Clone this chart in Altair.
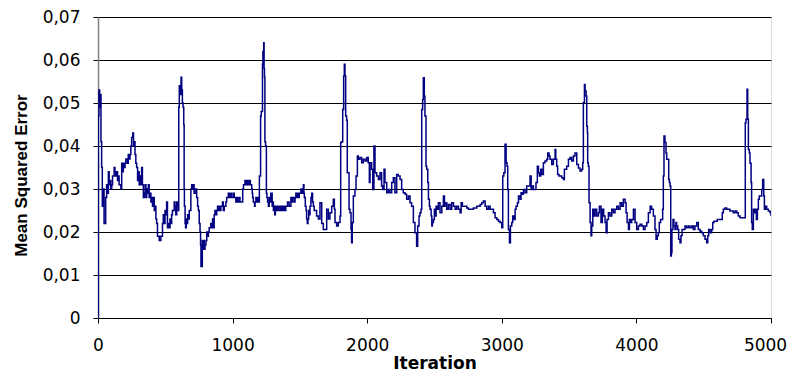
import altair as alt
import pandas as pd

# (iteration, mean squared error), segment by segment
seg1 = [(0, 0.0), (3, 0.047), (7, 0.053), (12, 0.049), (17, 0.052), (22, 0.041), (27, 0.035), (32, 0.026),
        (38, 0.030), (45, 0.022), (52, 0.022), (57, 0.028), (64, 0.031), (70, 0.029), (77, 0.034), (83, 0.031),
        (89, 0.032), (95, 0.030), (102, 0.031), (108, 0.033), (114, 0.033), (120, 0.035), (126, 0.034),
        (132, 0.033), (139, 0.034), (145, 0.032), (151, 0.033), (157, 0.031), (163, 0.031), (170, 0.030),
        (176, 0.036), (182, 0.034), (188, 0.036), (195, 0.035), (201, 0.036), (207, 0.037), (213, 0.037),
        (219, 0.036), (225, 0.038), (232, 0.037), (238, 0.038), (244, 0.040), (250, 0.042), (258, 0.043),
        (264, 0.040), (270, 0.041), (275, 0.038), (281, 0.036), (287, 0.035), (294, 0.032), (300, 0.034),
        (306, 0.031), (312, 0.033), (318, 0.031), (324, 0.035), (330, 0.031), (337, 0.028), (344, 0.029),
        (350, 0.031), (356, 0.028), (362, 0.030), (368, 0.029), (374, 0.031), (380, 0.028), (386, 0.029),
        (393, 0.027), (399, 0.028), (405, 0.026), (411, 0.028), (418, 0.025), (424, 0.026), (430, 0.023),
        (436, 0.022), (442, 0.019), (448, 0.019), (455, 0.018), (461, 0.018), (467, 0.019), (473, 0.019),
        (479, 0.022), (485, 0.024), (491, 0.022), (498, 0.025), (504, 0.024), (510, 0.027), (516, 0.021),
        (523, 0.022), (529, 0.021), (535, 0.023), (541, 0.022), (547, 0.024), (553, 0.025), (560, 0.025),
        (566, 0.027), (572, 0.026), (578, 0.024), (585, 0.027), (591, 0.026), (597, 0.025), (600, 0.049),
        (604, 0.054), (610, 0.052), (617, 0.056), (622, 0.053), (627, 0.050), (632, 0.049), (637, 0.045),
        (640, 0.030), (642, 0.026), (647, 0.022), (651, 0.021), (656, 0.023), (661, 0.022), (666, 0.024),
        (671, 0.023), (678, 0.025), (684, 0.025), (690, 0.030), (696, 0.031), (702, 0.030), (708, 0.031),
        (714, 0.029), (721, 0.030), (727, 0.030), (733, 0.028), (740, 0.026), (746, 0.025), (752, 0.022),
        (758, 0.020), (762, 0.017), (765, 0.012), (770, 0.012), (775, 0.018), (779, 0.016), (783, 0.018),
        (789, 0.016), (795, 0.017), (802, 0.018), (808, 0.020), (814, 0.019), (820, 0.020), (826, 0.021),
        (832, 0.021)]

seg2 = [(838, 0.022), (845, 0.021), (851, 0.023), (857, 0.021), (863, 0.024), (869, 0.025), (876, 0.024),
        (882, 0.025), (888, 0.026), (894, 0.025), (900, 0.026), (906, 0.025), (913, 0.026), (919, 0.026),
        (925, 0.027), (931, 0.025), (938, 0.026), (944, 0.026), (950, 0.027), (956, 0.028), (962, 0.028),
        (968, 0.029), (975, 0.028), (981, 0.028), (987, 0.029), (993, 0.028), (1000, 0.028), (1006, 0.029),
        (1012, 0.028), (1018, 0.028), (1024, 0.027), (1030, 0.028), (1037, 0.027), (1043, 0.027),
        (1049, 0.028), (1055, 0.027), (1061, 0.027), (1067, 0.027), (1075, 0.030), (1081, 0.031),
        (1087, 0.031), (1092, 0.032), (1097, 0.032), (1102, 0.031), (1107, 0.032), (1112, 0.031),
        (1117, 0.032), (1122, 0.031), (1127, 0.032), (1132, 0.031), (1137, 0.031), (1142, 0.030),
        (1146, 0.029), (1149, 0.028), (1154, 0.027), (1159, 0.027), (1163, 0.026), (1167, 0.027),
        (1173, 0.028), (1179, 0.027), (1185, 0.028), (1191, 0.027), (1199, 0.033), (1204, 0.033),
        (1208, 0.047), (1213, 0.048), (1218, 0.048), (1222, 0.059), (1225, 0.062), (1228, 0.060),
        (1231, 0.064), (1234, 0.058), (1237, 0.056), (1240, 0.041), (1245, 0.040), (1249, 0.040),
        (1251, 0.029), (1255, 0.028), (1260, 0.027), (1266, 0.026), (1272, 0.028), (1278, 0.027),
        (1284, 0.029), (1290, 0.029), (1294, 0.026), (1298, 0.027), (1303, 0.025), (1308, 0.026),
        (1313, 0.024), (1318, 0.026), (1323, 0.025), (1328, 0.026), (1334, 0.025), (1340, 0.026),
        (1346, 0.025), (1352, 0.025), (1358, 0.026), (1365, 0.025), (1371, 0.026), (1377, 0.025),
        (1383, 0.026), (1389, 0.025), (1395, 0.026), (1402, 0.026), (1408, 0.027), (1414, 0.027),
        (1420, 0.026), (1427, 0.026), (1433, 0.028), (1439, 0.027), (1445, 0.028), (1451, 0.028),
        (1457, 0.027), (1464, 0.028), (1470, 0.029), (1476, 0.028), (1482, 0.029), (1489, 0.028),
        (1495, 0.029), (1501, 0.029), (1507, 0.030), (1513, 0.029), (1520, 0.030), (1526, 0.031),
        (1530, 0.029), (1533, 0.028), (1540, 0.026), (1546, 0.025), (1550, 0.023), (1555, 0.022),
        (1560, 0.023), (1565, 0.025), (1570, 0.024), (1575, 0.026), (1582, 0.028), (1588, 0.029),
        (1594, 0.027), (1600, 0.026), (1606, 0.025), (1612, 0.025)]

seg3 = [(1624, 0.0237), (1637, 0.023), (1649, 0.0268), (1662, 0.022), (1674, 0.0206), (1686, 0.0206),
        (1699, 0.0253), (1711, 0.023), (1723, 0.0245), (1736, 0.026), (1748, 0.0276), (1756, 0.0253),
        (1761, 0.0222), (1773, 0.0214), (1785, 0.0222), (1798, 0.0237), (1803, 0.0408), (1810, 0.041),
        (1818, 0.0485), (1825, 0.0563), (1830, 0.059), (1835, 0.0563), (1840, 0.047), (1847, 0.046),
        (1852, 0.0338), (1860, 0.0338), (1865, 0.0253), (1872, 0.0245), (1880, 0.0206), (1884, 0.0175),
        (1889, 0.0222), (1897, 0.0284), (1909, 0.0299), (1917, 0.033), (1927, 0.0377), (1934, 0.0369),
        (1946, 0.0373), (1959, 0.0361), (1971, 0.0369), (1984, 0.0365), (1996, 0.0373), (2008, 0.0361),
        (2016, 0.0315), (2021, 0.0361), (2033, 0.0346), (2041, 0.0299), (2050, 0.0400), (2058, 0.0338),
        (2070, 0.033), (2083, 0.0322), (2095, 0.0338), (2107, 0.0307), (2115, 0.0299), (2125, 0.0346),
        (2132, 0.0315), (2145, 0.0291), (2157, 0.0299), (2169, 0.0291), (2182, 0.0315), (2194, 0.0326),
        (2206, 0.0291), (2219, 0.0334), (2231, 0.033), (2244, 0.0322), (2256, 0.0299), (2268, 0.0291),
        (2281, 0.0288), (2293, 0.0276), (2306, 0.0284), (2318, 0.0268), (2330, 0.026), (2343, 0.0222),
        (2355, 0.0198), (2367, 0.0167), (2375, 0.0214), (2385, 0.0237), (2392, 0.0245), (2400, 0.0253),
        (2405, 0.0485), (2412, 0.0508), (2417, 0.0559), (2424, 0.0516), (2429, 0.047)]

seg4 = [(2437, 0.0353), (2442, 0.0346), (2450, 0.0315), (2455, 0.0276), (2462, 0.026), (2467, 0.0253),
        (2475, 0.0237), (2480, 0.0214), (2484, 0.0222), (2492, 0.0229), (2499, 0.0253), (2504, 0.0237),
        (2512, 0.026), (2519, 0.0253), (2529, 0.0268), (2541, 0.0245), (2554, 0.026), (2566, 0.0284),
        (2574, 0.026), (2579, 0.0268), (2591, 0.0253), (2603, 0.0264), (2616, 0.0253), (2628, 0.0268),
        (2641, 0.026), (2653, 0.0253), (2665, 0.026), (2678, 0.0253), (2690, 0.0245), (2698, 0.0268),
        (2707, 0.026), (2722, 0.026), (2740, 0.0256), (2752, 0.0253), (2764, 0.0253), (2777, 0.0253),
        (2789, 0.0256), (2802, 0.0256), (2814, 0.026), (2826, 0.026), (2839, 0.0264), (2851, 0.0268),
        (2863, 0.0272), (2876, 0.026), (2888, 0.0253), (2901, 0.026), (2913, 0.0253), (2925, 0.0253),
        (2938, 0.0245), (2950, 0.0233), (2963, 0.0229), (2975, 0.0225), (2987, 0.0222), (3000, 0.021),
        (3007, 0.033), (3015, 0.0338), (3024, 0.0404), (3032, 0.0361), (3039, 0.0353), (3044, 0.0299),
        (3049, 0.0206), (3057, 0.0175), (3064, 0.0214), (3074, 0.0222), (3081, 0.0237), (3089, 0.0229),
        (3099, 0.0253), (3106, 0.026), (3116, 0.0268), (3124, 0.0284), (3136, 0.0276), (3143, 0.0291),
        (3153, 0.0288), (3161, 0.0299), (3173, 0.0291), (3185, 0.0307), (3198, 0.0307), (3210, 0.033),
        (3218, 0.0299), (3223, 0.0307), (3235, 0.0299), (3247, 0.0299)]

seg5 = [(3254, 0.0315), (3264, 0.0353), (3272, 0.0338), (3279, 0.033), (3289, 0.0346), (3297, 0.0334),
        (3309, 0.0361), (3321, 0.0365), (3334, 0.0369), (3341, 0.0384), (3351, 0.0377), (3358, 0.0369),
        (3371, 0.0357), (3383, 0.0369), (3396, 0.0392), (3401, 0.0369), (3408, 0.0353), (3415, 0.0334),
        (3425, 0.033), (3433, 0.033), (3445, 0.0326), (3458, 0.0322), (3465, 0.0346), (3475, 0.0346),
        (3482, 0.0353), (3495, 0.0369), (3507, 0.0373), (3519, 0.0365), (3532, 0.0377), (3544, 0.0384),
        (3557, 0.0357), (3569, 0.0349), (3581, 0.0342), (3594, 0.0346), (3601, 0.0361), (3606, 0.0501),
        (3614, 0.0543), (3619, 0.0528), (3626, 0.0516), (3631, 0.0446), (3636, 0.0431), (3638, 0.0361),
        (3643, 0.0353), (3648, 0.0268), (3656, 0.0222), (3663, 0.0191), (3668, 0.0214), (3676, 0.0253),
        (3683, 0.0237), (3693, 0.0253), (3705, 0.0237), (3718, 0.0245), (3725, 0.026), (3737, 0.0222),
        (3747, 0.0253), (3757, 0.0237), (3767, 0.0222), (3775, 0.0198), (3782, 0.0229), (3792, 0.0245),
        (3804, 0.0237), (3817, 0.0253), (3829, 0.0245), (3841, 0.0253), (3854, 0.026), (3866, 0.0253),
        (3879, 0.0268), (3891, 0.026), (3903, 0.0276), (3916, 0.0268), (3923, 0.0245), (3931, 0.0222),
        (3941, 0.0206), (3948, 0.0229), (3958, 0.0222), (3965, 0.0229), (3978, 0.0253), (3990, 0.0222),
        (4002, 0.0206), (4015, 0.0214), (4027, 0.0218), (4040, 0.0214), (4052, 0.0206), (4064, 0.0214),
        (4077, 0.0222), (4089, 0.0245), (4102, 0.026)]

seg6 = [(4113, 0.0253), (4126, 0.0237), (4138, 0.0206), (4146, 0.0183), (4155, 0.0191), (4163, 0.0198),
        (4170, 0.0222), (4180, 0.0229), (4188, 0.0229), (4195, 0.0253), (4200, 0.033), (4205, 0.0423),
        (4212, 0.0408), (4220, 0.0384), (4225, 0.0369), (4232, 0.0369), (4240, 0.0322), (4245, 0.0315),
        (4250, 0.0307), (4255, 0.0144), (4260, 0.0152), (4264, 0.0206), (4272, 0.0229), (4279, 0.0214),
        (4287, 0.0206), (4294, 0.0222), (4299, 0.0214), (4307, 0.0206), (4314, 0.0183), (4324, 0.0175),
        (4331, 0.0191), (4339, 0.0206), (4349, 0.0206), (4361, 0.0214), (4373, 0.021), (4386, 0.0214),
        (4398, 0.021), (4411, 0.0214), (4423, 0.0206), (4435, 0.0214), (4448, 0.0222), (4460, 0.0206),
        (4473, 0.0202), (4485, 0.0198), (4497, 0.0191), (4510, 0.0183), (4522, 0.0175), (4530, 0.0191),
        (4537, 0.0206), (4547, 0.0198), (4559, 0.0206), (4567, 0.0222), (4577, 0.0225), (4589, 0.0225),
        (4601, 0.0229), (4614, 0.0229), (4626, 0.0229), (4638, 0.0245), (4646, 0.0253), (4658, 0.0256),
        (4671, 0.0253), (4683, 0.0253), (4695, 0.0249), (4708, 0.0249), (4720, 0.0245), (4733, 0.0249),
        (4745, 0.0245), (4757, 0.0237), (4770, 0.0233), (4782, 0.0233), (4795, 0.0233), (4807, 0.0233),
        (4809, 0.0454), (4814, 0.0462), (4822, 0.0532), (4827, 0.0462), (4832, 0.0392), (4839, 0.0384),
        (4844, 0.036), (4852, 0.0315), (4856, 0.0222), (4861, 0.0206), (4869, 0.0253), (4876, 0.0245),
        (4884, 0.0253), (4891, 0.0229), (4899, 0.0253), (4906, 0.0276), (4913, 0.0284), (4923, 0.0284),
        (4931, 0.0299), (4938, 0.0322), (4946, 0.0284), (4951, 0.0253), (4958, 0.026), (4968, 0.0253),
        (4980, 0.0249), (4993, 0.0245), (5000, 0.0237)]

x_ticks = [0, 1000, 2000, 3000, 4000, 5000]
y_ticks = [0, 0.01, 0.02, 0.03, 0.04, 0.05, 0.06, 0.07]

rows = seg1 + seg2 + seg3 + seg4 + seg5 + seg6
df = pd.DataFrame(rows, columns=["Iteration", "MSE"])

label_font = "DejaVu Sans"

chart = (
    alt.Chart(df)
    .mark_line(color="#000080", strokeWidth=1.5, interpolate="step-after", clip=True)
    .encode(
        x=alt.X(
            "Iteration:Q",
            scale=alt.Scale(domain=[0, 5000], nice=False, zero=True),
            axis=alt.Axis(
                values=x_ticks,
                format="d",
                grid=False,
                domainColor="#000000",
                domainWidth=1,
                tickColor="#000000",
                tickSize=5,
                labelFont=label_font,
                labelFontSize=17,
                labelColor="#000000",
                labelPadding=14,
                labelFlush=False,
                labelOffset={"condition": {"test": "datum.value == 5000", "value": -6}, "value": 0},
                title="Iteration",
                titleFont=label_font,
                titleFontSize=17,
                titleFontWeight="bold",
                titleColor="#000000",
                titleBaseline="alphabetic",
                titleY=50,
            ),
        ),
        y=alt.Y(
            "MSE:Q",
            scale=alt.Scale(domain=[0, 0.07], nice=False),
            axis=alt.Axis(
                values=y_ticks,
                labelExpr="datum.value == 0 ? '0' : replace(format(datum.value, '.2f'), '.', ',')",
                grid=True,
                gridColor="#000000",
                gridWidth=1,
                domainColor="#808080",
                domainWidth=1.5,
                tickColor="#000000",
                tickSize=5,
                labelFont=label_font,
                labelFontSize=17,
                labelColor="#000000",
                labelPadding=13,
                title="Mean Squared Error",
                titleFont="Liberation Sans",
                titleFontSize=17,
                titleFontWeight="bold",
                titleColor="#000000",
                titleBaseline="alphabetic",
                titleAngle=270,
                titleX=-72,
                titleY=158,
            ),
        ),
    )
    .properties(
        width=673,
        height=301,
        autosize=alt.AutoSizeParams(type="none"),
        padding={"left": 90, "top": 9, "right": 16, "bottom": 55},
    )
    .configure_view(stroke=None)
    .configure(background="#ffffff")
)

chart.save("out.html", embed_options={"renderer": "svg", "actions": False})
